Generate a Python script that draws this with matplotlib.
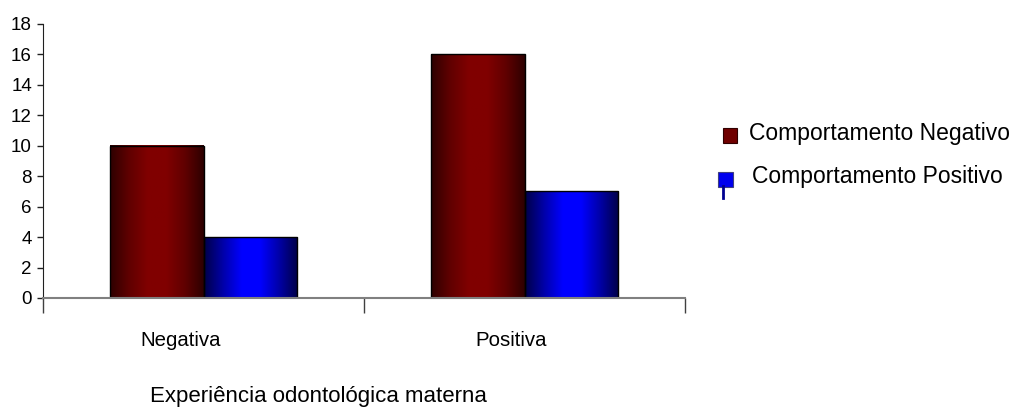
import numpy as np
import matplotlib
matplotlib.use("Agg")
import matplotlib.pyplot as plt
from matplotlib.colors import LinearSegmentedColormap
from matplotlib.patches import Rectangle

categories = ["Negativa", "Positiva"]
series_names = ["Comportamento Negativo", "Comportamento Positivo"]
neg_values = [10, 16]
pos_values = [4, 7]
yticks = [0, 2, 4, 6, 8, 10, 12, 14, 16, 18]
xlabel = "Experiência odontológica materna"

plt.rcParams['font.family'] = ['Liberation Sans', 'DejaVu Sans']
FS_TICK = 13.5
FS_CAT = 14.7
FS_XLAB = 16
FS_LEG = 16.5

W, H = 1016, 408
fig = plt.figure(figsize=(W / 100, H / 100), dpi=100)
ax = fig.add_axes([43/W, 110/H, 642/W, 274/H])

cmap_red = LinearSegmentedColormap.from_list("r", ["#2e0000", "#600000", "#800000", "#800000", "#600000", "#2e0000"])
cmap_blue = LinearSegmentedColormap.from_list("b", ["#000048", "#0000a8", "#0000ff", "#0000ff", "#0000a8", "#000048"])

grad = np.linspace(0, 1, 200).reshape(1, -1)
bw = 0.29
xs = np.arange(len(categories)) + 0.5

for i, x in enumerate(xs):
    for vals, cm, off in [(neg_values, cmap_red, -bw), (pos_values, cmap_blue, 0)]:
        x0 = x + off
        h = vals[i]
        ax.imshow(grad, extent=(x0, x0 + bw, 0, h), aspect='auto', cmap=cm,
                  origin='lower', zorder=2, interpolation='bilinear')
        ax.add_patch(Rectangle((x0, 0), bw, h, fill=False, edgecolor='black',
                               linewidth=1.0, zorder=3))

ax.set_xlim(0, 2)
ax.set_ylim(0, 18)
ax.set_yticks(yticks)
ax.set_yticklabels([str(v) for v in yticks], fontsize=FS_TICK)
ax.set_xticks([0, 1, 2])
ax.set_xticklabels([])
ax.tick_params(axis='x', direction='out', length=11, width=1, color='#404040')
ax.tick_params(axis='y', direction='out', length=4, width=1, color='#202020', pad=4)
for s in ['top', 'right']:
    ax.spines[s].set_visible(False)
ax.spines['left'].set_color('#202020')
ax.spines['bottom'].set_color('#808080')
ax.spines['bottom'].set_linewidth(1.5)
ax.spines['left'].set_zorder(4)
ax.spines['bottom'].set_zorder(4)

# category labels (slightly left of category centres, as in the original)
cat_x_px = [140, 475]
for px, c in zip(cat_x_px, categories):
    fig.text(px / W, 1 - 346 / H, c, ha='left', va='baseline', fontsize=FS_CAT)

fig.text(150 / W, 1 - 402 / H, xlabel, ha='left', va='baseline', fontsize=FS_XLAB)

# legend
fig.patches.append(Rectangle((723/W, 1 - 143/H), 14/W, 15/H, transform=fig.transFigure,
                             facecolor='#700000', edgecolor='#300000', linewidth=0.8, figure=fig))
fig.text(749/W, 1 - 140/H, series_names[0], ha='left', va='baseline', fontsize=FS_LEG)

fig.lines.append(plt.Line2D([723/W, 723/W], [1 - 186/H, 1 - 198/H], transform=fig.transFigure,
                            color='#000090', linewidth=2, figure=fig))
fig.patches.append(Rectangle((718/W, 1 - 187/H), 15/W, 15/H, transform=fig.transFigure,
                             facecolor='#0000ee', edgecolor='#404080', linewidth=0.8, figure=fig))
fig.text(752/W, 1 - 183/H, series_names[1], ha='left', va='baseline', fontsize=FS_LEG)

fig.savefig("out.png", dpi=100)
